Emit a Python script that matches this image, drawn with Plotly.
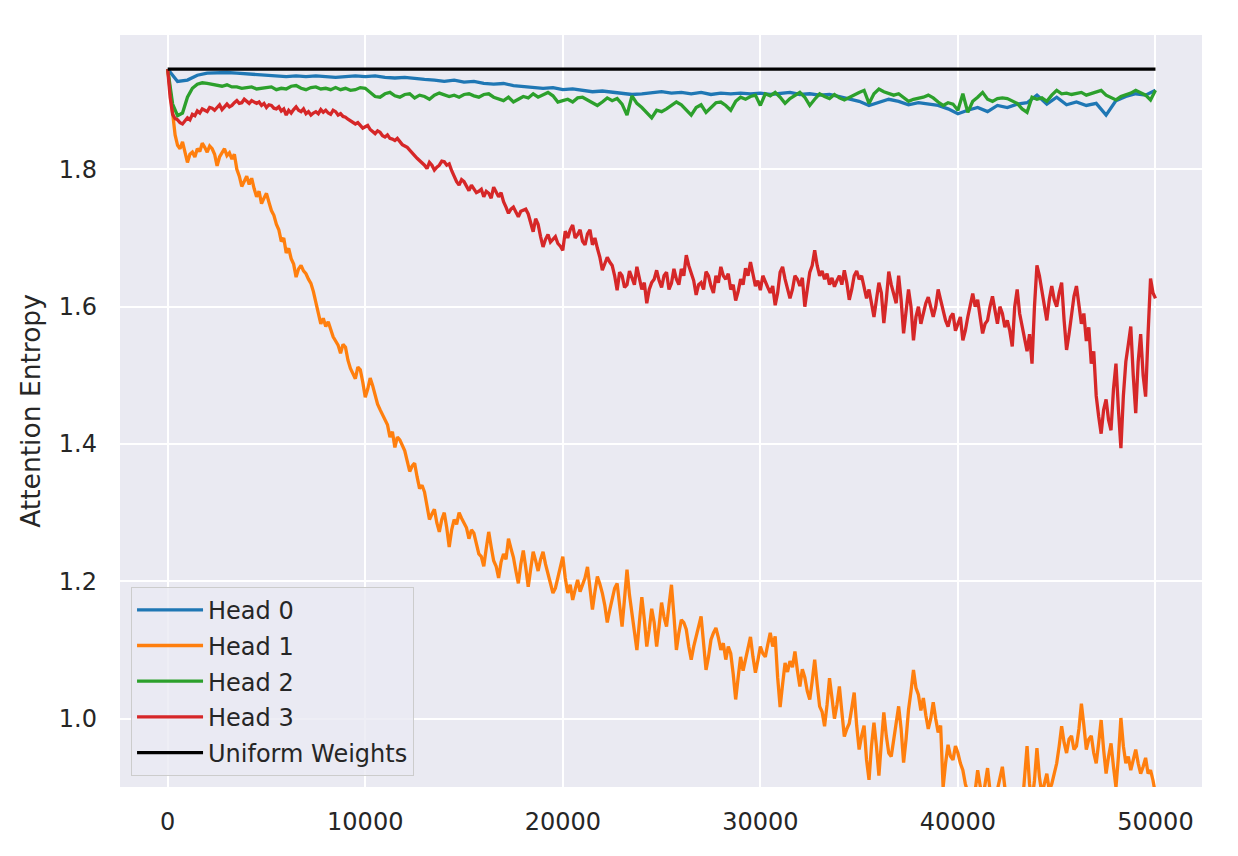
import plotly.graph_objects as go

# ---------------- data ----------------
steps_dense = list(range(0, 50001, 125))
steps_fine = list(range(0, 50001, 250))
steps_coarse = list(range(0, 50001, 500))
uniform_steps = [0, 50000]
uniform_value = [1.9459, 1.9459]

head0 = [
    1.946, 1.928, 1.930, 1.937, 1.940, 1.941, 1.941, 1.940, 1.939, 1.938,
    1.937, 1.936, 1.935, 1.936, 1.935, 1.936, 1.935, 1.934, 1.935, 1.936,
    1.935, 1.936, 1.934, 1.933, 1.934, 1.932, 1.931, 1.930, 1.928, 1.930,
    1.927, 1.928, 1.925, 1.924, 1.925, 1.922, 1.921, 1.920, 1.918, 1.919,
    1.916, 1.917, 1.915, 1.913, 1.914, 1.912, 1.911, 1.909, 1.910, 1.911,
    1.913, 1.911, 1.912, 1.910, 1.912, 1.909, 1.911, 1.910, 1.911, 1.910,
    1.911, 1.909, 1.910, 1.912, 1.909, 1.910, 1.908, 1.909, 1.906, 1.902,
    1.899, 1.893, 1.897, 1.902, 1.899, 1.894, 1.897, 1.895, 1.893, 1.888,
    1.881, 1.886, 1.890, 1.884, 1.893, 1.890, 1.895, 1.897, 1.908, 1.895,
    1.905, 1.894, 1.898, 1.893, 1.896, 1.879, 1.900, 1.906, 1.910, 1.908,
    1.915,
]

head1 = [
    1.946, 1.910, 1.880, 1.850, 1.835, 1.830, 1.840, 1.826, 1.810, 1.822, 1.825, 1.818, 1.830, 1.826, 1.838, 1.832, 1.825, 1.834, 1.830, 1.822,
    1.805, 1.818, 1.825, 1.830, 1.820, 1.824, 1.815, 1.822, 1.800, 1.790, 1.775, 1.784, 1.790, 1.778, 1.787, 1.772, 1.760, 1.768, 1.750, 1.758,
    1.765, 1.752, 1.740, 1.733, 1.720, 1.712, 1.695, 1.700, 1.678, 1.685, 1.670, 1.662, 1.643, 1.655, 1.660, 1.652, 1.648, 1.640, 1.634, 1.622,
    1.605, 1.590, 1.575, 1.583, 1.571, 1.578, 1.565, 1.556, 1.550, 1.544, 1.532, 1.545, 1.541, 1.522, 1.510, 1.502, 1.495, 1.512, 1.508, 1.490,
    1.468, 1.480, 1.496, 1.485, 1.470, 1.458, 1.450, 1.442, 1.435, 1.428, 1.410, 1.418, 1.395, 1.410, 1.406, 1.398, 1.390, 1.375, 1.360, 1.368,
    1.372, 1.352, 1.335, 1.340, 1.330, 1.310, 1.290, 1.298, 1.305, 1.285, 1.272, 1.290, 1.300, 1.278, 1.250, 1.275, 1.290, 1.283, 1.300, 1.292,
    1.285, 1.278, 1.262, 1.275, 1.270, 1.252, 1.240, 1.236, 1.222, 1.248, 1.272, 1.250, 1.230, 1.222, 1.205, 1.228, 1.240, 1.232, 1.262, 1.248,
    1.235, 1.215, 1.197, 1.225, 1.245, 1.220, 1.192, 1.218, 1.243, 1.230, 1.215, 1.232, 1.243, 1.225, 1.210, 1.196, 1.183, 1.190, 1.205, 1.222,
    1.236, 1.205, 1.183, 1.195, 1.173, 1.188, 1.202, 1.185, 1.195, 1.205, 1.221, 1.190, 1.159, 1.185, 1.207, 1.196, 1.183, 1.165, 1.140, 1.158,
    1.177, 1.190, 1.197, 1.165, 1.134, 1.175, 1.217, 1.180, 1.154, 1.125, 1.100, 1.140, 1.177, 1.145, 1.105, 1.130, 1.160, 1.140, 1.105, 1.135,
    1.169, 1.148, 1.134, 1.165, 1.195, 1.150, 1.100, 1.125, 1.144, 1.140, 1.130, 1.105, 1.086, 1.105, 1.120, 1.130, 1.149, 1.110, 1.071, 1.090,
    1.115, 1.125, 1.132, 1.118, 1.100, 1.110, 1.086, 1.105, 1.095, 1.065, 1.028, 1.060, 1.090, 1.070, 1.085, 1.100, 1.119, 1.090, 1.067, 1.085,
    1.105, 1.095, 1.090, 1.108, 1.125, 1.105, 1.120, 1.060, 1.017, 1.050, 1.081, 1.068, 1.084, 1.075, 1.098, 1.070, 1.047, 1.072, 1.060, 1.040,
    1.028, 1.055, 1.086, 1.050, 1.018, 1.010, 0.989, 1.020, 1.059, 1.030, 1.000, 1.020, 1.047, 1.010, 0.974, 0.985, 0.993, 1.015, 1.038, 0.990,
    0.955, 0.975, 0.990, 0.940, 0.911, 0.960, 0.994, 0.960, 0.917, 0.965, 1.009, 0.975, 0.950, 0.945, 0.970, 0.995, 1.018, 0.985, 0.936, 0.970,
    1.013, 1.040, 1.071, 1.045, 1.035, 1.012, 1.030, 1.005, 0.985, 1.000, 1.024, 1.000, 0.980, 0.990, 0.900, 0.935, 0.962, 0.945, 0.940, 0.960,
    0.950, 0.935, 0.925, 0.905, 0.890, 0.880, 0.875, 0.895, 0.925, 0.900, 0.880, 0.905, 0.928, 0.895, 0.870, 0.880, 0.895, 0.910, 0.930, 0.900,
    0.870, 0.880, 0.860, 0.875, 0.880, 0.865, 0.870, 0.915, 0.960, 0.905, 0.880, 0.910, 0.957, 0.915, 0.890, 0.905, 0.920, 0.895, 0.905, 0.920,
    0.935, 0.960, 0.989, 0.965, 0.950, 0.970, 0.975, 0.955, 0.960, 0.985, 1.022, 0.990, 0.955, 0.970, 0.975, 0.950, 0.935, 0.965, 0.998, 0.955,
    0.920, 0.945, 0.964, 0.930, 0.900, 0.945, 1.001, 0.960, 0.935, 0.945, 0.925, 0.940, 0.955, 0.935, 0.920, 0.930, 0.943, 0.920, 0.925, 0.910,
    0.890,
]

head2 = [
    1.946, 1.895, 1.878, 1.882, 1.905, 1.918, 1.924, 1.926, 1.925, 1.924,
    1.922, 1.921, 1.923, 1.920, 1.920, 1.918, 1.919, 1.920, 1.917, 1.918,
    1.919, 1.920, 1.916, 1.918, 1.917, 1.921, 1.922, 1.918, 1.916, 1.919,
    1.920, 1.917, 1.918, 1.916, 1.919, 1.916, 1.918, 1.915, 1.916, 1.919,
    1.918, 1.912, 1.906, 1.905, 1.910, 1.912, 1.907, 1.905, 1.909, 1.910,
    1.904, 1.908, 1.906, 1.902, 1.908, 1.911, 1.909, 1.906, 1.908, 1.905,
    1.909, 1.910, 1.907, 1.905, 1.909, 1.910, 1.905, 1.903, 1.900, 1.905,
    1.898, 1.902, 1.906, 1.904, 1.910, 1.905, 1.908, 1.912, 1.907, 1.898,
    1.900, 1.902, 1.898, 1.904, 1.905, 1.901, 1.896, 1.893, 1.898, 1.904,
    1.900, 1.903, 1.895, 1.879, 1.907, 1.896, 1.890, 1.882, 1.875, 1.886,
    1.884, 1.888, 1.893, 1.898, 1.894, 1.886, 1.879, 1.890, 1.894, 1.883,
    1.890, 1.897, 1.898, 1.893, 1.886, 1.899, 1.905, 1.902, 1.906, 1.908,
    1.893, 1.910, 1.907, 1.912, 1.905, 1.896, 1.903, 1.908, 1.912, 1.905,
    1.893, 1.902, 1.910, 1.906, 1.903, 1.909, 1.904, 1.901, 1.905, 1.908,
    1.912, 1.915, 1.896, 1.910, 1.917, 1.913, 1.910, 1.908, 1.910, 1.904,
    1.899, 1.902, 1.903, 1.905, 1.908, 1.904, 1.898, 1.893, 1.897, 1.895,
    1.886, 1.910, 1.883, 1.899, 1.905, 1.912, 1.902, 1.899, 1.903, 1.904,
    1.903, 1.900, 1.896, 1.888, 1.883, 1.905, 1.902, 1.904, 1.899, 1.908,
    1.915, 1.910, 1.911, 1.909, 1.910, 1.912, 1.908, 1.910, 1.912, 1.915,
    1.908, 1.905, 1.901, 1.906, 1.908, 1.911, 1.915, 1.912, 1.908, 1.901,
    1.915,
]

head3 = [
    1.946, 1.905, 1.880, 1.874, 1.872, 1.868, 1.866, 1.870, 1.875, 1.872, 1.880, 1.878, 1.885, 1.882, 1.888, 1.886, 1.884, 1.890, 1.889, 1.886,
    1.891, 1.894, 1.887, 1.892, 1.895, 1.891, 1.893, 1.897, 1.900, 1.896, 1.897, 1.902, 1.899, 1.896, 1.900, 1.898, 1.896, 1.898, 1.893, 1.896,
    1.890, 1.894, 1.893, 1.889, 1.888, 1.891, 1.885, 1.888, 1.879, 1.886, 1.882, 1.887, 1.891, 1.886, 1.884, 1.888, 1.881, 1.884, 1.879, 1.882,
    1.884, 1.881, 1.887, 1.883, 1.886, 1.882, 1.880, 1.886, 1.884, 1.879, 1.881, 1.877, 1.876, 1.873, 1.871, 1.869, 1.866, 1.868, 1.864, 1.860,
    1.862, 1.864, 1.858, 1.855, 1.852, 1.856, 1.854, 1.849, 1.847, 1.850, 1.845, 1.844, 1.842, 1.845, 1.840, 1.836, 1.834, 1.832, 1.828, 1.823,
    1.820, 1.816, 1.813, 1.810, 1.806, 1.801, 1.810, 1.806, 1.799, 1.803, 1.806, 1.812, 1.811, 1.806, 1.808, 1.798, 1.790, 1.782, 1.777, 1.785,
    1.782, 1.775, 1.769, 1.777, 1.772, 1.766, 1.768, 1.771, 1.760, 1.768, 1.765, 1.758, 1.774, 1.768, 1.760, 1.766, 1.753, 1.745, 1.736, 1.742,
    1.745, 1.738, 1.731, 1.739, 1.740, 1.742, 1.735, 1.722, 1.709, 1.728, 1.720, 1.702, 1.687, 1.698, 1.705, 1.694, 1.698, 1.702, 1.692, 1.688,
    1.682, 1.710, 1.700, 1.712, 1.719, 1.700, 1.705, 1.712, 1.695, 1.690, 1.706, 1.712, 1.690, 1.700, 1.685, 1.672, 1.653, 1.662, 1.672, 1.665,
    1.660, 1.645, 1.624, 1.650, 1.645, 1.628, 1.632, 1.652, 1.640, 1.632, 1.658, 1.642, 1.625, 1.635, 1.605, 1.625, 1.635, 1.640, 1.653, 1.638,
    1.628, 1.645, 1.650, 1.625, 1.634, 1.655, 1.640, 1.632, 1.655, 1.645, 1.675, 1.660, 1.650, 1.638, 1.617, 1.632, 1.635, 1.625, 1.651, 1.645,
    1.630, 1.620, 1.645, 1.635, 1.658, 1.645, 1.640, 1.648, 1.625, 1.632, 1.609, 1.622, 1.640, 1.632, 1.656, 1.645, 1.665, 1.648, 1.630, 1.638,
    1.624, 1.645, 1.635, 1.628, 1.620, 1.630, 1.602, 1.620, 1.650, 1.658, 1.640, 1.628, 1.612, 1.625, 1.645, 1.640, 1.630, 1.642, 1.600, 1.625,
    1.650, 1.660, 1.682, 1.660, 1.645, 1.652, 1.640, 1.648, 1.632, 1.642, 1.629, 1.638, 1.645, 1.632, 1.653, 1.635, 1.610, 1.625, 1.645, 1.652,
    1.640, 1.645, 1.630, 1.612, 1.625, 1.605, 1.585, 1.610, 1.635, 1.620, 1.576, 1.610, 1.651, 1.632, 1.620, 1.605, 1.645, 1.610, 1.561, 1.590,
    1.625, 1.600, 1.551, 1.585, 1.600, 1.575, 1.590, 1.605, 1.614, 1.600, 1.585, 1.600, 1.625, 1.610, 1.595, 1.580, 1.571, 1.585, 1.590, 1.565,
    1.575, 1.585, 1.551, 1.565, 1.585, 1.600, 1.619, 1.600, 1.610, 1.585, 1.561, 1.575, 1.580, 1.600, 1.615, 1.595, 1.575, 1.600, 1.590, 1.570,
    1.580, 1.565, 1.542, 1.600, 1.625, 1.590, 1.570, 1.550, 1.535, 1.560, 1.517, 1.600, 1.660, 1.645, 1.625, 1.600, 1.580, 1.610, 1.630, 1.610,
    1.600, 1.620, 1.635, 1.580, 1.537, 1.560, 1.585, 1.615, 1.630, 1.600, 1.575, 1.590, 1.550, 1.570, 1.517, 1.535, 1.470, 1.440, 1.415, 1.450,
    1.465, 1.435, 1.420, 1.480, 1.517, 1.450, 1.394, 1.470, 1.520, 1.545, 1.571, 1.500, 1.445, 1.520, 1.560, 1.500, 1.469, 1.560, 1.641, 1.620,
    1.612,
]

series_names = ["Head 0", "Head 1", "Head 2", "Head 3", "Uniform Weights"]
series_colors = ["#1f77b4", "#ff7f0e", "#2ca02c", "#d62728", "#000000"]

x_ticks = [0, 10000, 20000, 30000, 40000, 50000]
x_tick_labels = ["0", "10000", "20000", "30000", "40000", "50000"]
y_ticks = [1.0, 1.2, 1.4, 1.6, 1.8]
y_tick_labels = ["1.0", "1.2", "1.4", "1.6", "1.8"]

# ---------------- figure ----------------
FONT = "DejaVu Sans"
TXT = "#262626"

fig = go.Figure()
series = [
    (steps_coarse, head0),
    (steps_dense, head1),
    (steps_fine, head2),
    (steps_dense, head3),
    (uniform_steps, uniform_value),
]
for i, ((xs, ys), name, color) in enumerate(zip(series, series_names, series_colors)):
    fig.add_trace(go.Scatter(
        x=xs, y=ys, mode="lines", name=name,
        line=dict(color=color, width=3.3),
        legendgroup=f"g{i}",
    ))

# page body adds an 8px margin, so the figure is sized/offset to compensate
fig.update_layout(
    width=1230, height=840,
    margin=dict(l=112, r=36, t=27, b=61),
    paper_bgcolor="white",
    plot_bgcolor="#EAEAF2",
    font=dict(family=FONT, size=24, color=TXT),
    showlegend=True,
    legend=dict(
        x=0.0102, y=0.015, xanchor="left", yanchor="bottom",
        bgcolor="rgba(234,234,242,0.8)",
        bordercolor="#CCCCCC", borderwidth=1,
        font=dict(family=FONT, size=24, color=TXT),
        tracegroupgap=1.5,
        itemwidth=66,
        traceorder="grouped",
    ),
)

fig.update_xaxes(
    range=[-2414, 52355],
    tickmode="array", tickvals=x_ticks, ticktext=x_tick_labels,
    showgrid=True, gridcolor="white", gridwidth=2,
    zeroline=False, showline=False, ticks="",
    tickfont=dict(family=FONT, size=24, color=TXT),
    ticklabelstandoff=18,
)
fig.update_yaxes(
    range=[0.9005, 1.9956],
    tickmode="array", tickvals=y_ticks, ticktext=y_tick_labels,
    showgrid=True, gridcolor="white", gridwidth=2,
    zeroline=False, showline=False, ticks="",
    tickfont=dict(family=FONT, size=24, color=TXT),
    ticklabelstandoff=22,
    title=dict(text="Attention Entropy", font=dict(family=FONT, size=26.5, color=TXT), standoff=10),
)

fig.write_html("out.html")
